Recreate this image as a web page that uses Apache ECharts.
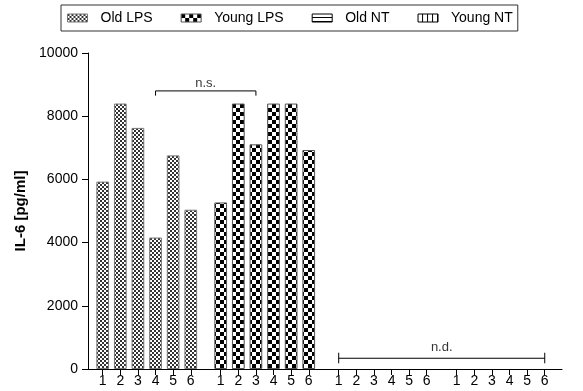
<!DOCTYPE html>
<html>
<head>
<meta charset="utf-8">
<script src="https://cdn.jsdelivr.net/npm/echarts@6/dist/echarts.min.js"></script>
<style>
html,body{margin:0;padding:0;background:#fff;}
#chart{width:583px;height:391px;}
</style>
</head>
<body>
<div id="chart"></div>
<script>
// ---- data ----
const groups = ['Old LPS', 'Young LPS', 'Old NT', 'Young NT'];
const tickLabels = ['1', '2', '3', '4', '5', '6'];
const oldLPS = [5930, 8400, 7630, 4160, 6760, 5040];
const youngLPS = [5270, 8400, 7110, 8400, 8400, 6930];
const oldNT = [0, 0, 0, 0, 0, 0];
const youngNT = [0, 0, 0, 0, 0, 0];
const yTicks = [0, 2000, 4000, 6000, 8000, 10000];
const nsText = 'n.s.';
const ndText = 'n.d.';
const nsLevel = [8650, 8800];   // bracket tick bottom, bracket line
const ndLevel = [180, 340, 515]; // tick bottom, line, tick top
const yTitle = 'IL-6 [pg/ml]';

// ---- layout helpers ----
const GROUP_STEP = 6.7;
function pos(g, i) { return +(g * GROUP_STEP + i + 1).toFixed(3); }
const seriesValues = [oldLPS, youngLPS, oldNT, youngNT];
const tickPos = [];
const labelMap = {};
groups.forEach((g, gi) => tickLabels.forEach((t, i) => {
  const p = pos(gi, i); tickPos.push(p); labelMap[p.toFixed(3)] = t;
}));

function makePattern(kind) {
  const c = document.createElement('canvas');
  const ctx = c.getContext('2d');
  if (kind === 'fine') {
    c.width = 4; c.height = 4;
    ctx.fillStyle = '#fff'; ctx.fillRect(0, 0, 4, 4);
    ctx.fillStyle = '#333';
    ctx.fillRect(0, 0, 2, 2); ctx.fillRect(2, 2, 2, 2);
  } else if (kind === 'coarse') {
    c.width = 8; c.height = 8;
    ctx.fillStyle = '#fff'; ctx.fillRect(0, 0, 8, 8);
    ctx.fillStyle = '#000';
    ctx.fillRect(0, 0, 4, 4); ctx.fillRect(4, 4, 4, 4);
  } else if (kind === 'hline') {
    c.width = 4; c.height = 4;
    ctx.fillStyle = '#fff'; ctx.fillRect(0, 0, 4, 4);
    ctx.fillStyle = '#000'; ctx.fillRect(0, 3, 4, 1);
  } else {
    c.width = 5; c.height = 5;
    ctx.fillStyle = '#fff'; ctx.fillRect(0, 0, 5, 5);
    ctx.fillStyle = '#000'; ctx.fillRect(4, 0, 1, 5);
  }
  return { image: c, repeat: 'repeat' };
}
const patterns = [makePattern('fine'), makePattern('coarse'), makePattern('hline'), makePattern('vline')];
const borders = ['#777', '#555', '#000', '#000'];

const FONT = 'Liberation Sans, Arial, sans-serif';

const series = [];
groups.forEach((name, gi) => {
  const zero = seriesValues[gi].every(v => v === 0);
  series.push({
    name: name,
    type: 'bar',
    barWidth: 12.7,
    barGap: '-100%',
    itemStyle: { color: patterns[gi], borderColor: borders[gi], borderWidth: zero ? 0 : 1 },
    data: seriesValues[gi].map((v, i) => [pos(gi, i), v]),
    silent: true
  });
});

function seg(points) {
  return {
    type: 'line', data: points, symbol: 'none', silent: true, z: 5,
    lineStyle: { color: '#000', width: 1 }
  };
}
// n.s. bracket
const nsL = pos(0, 3), nsR = pos(1, 2);
series.push(seg([[nsL, nsLevel[0]], [nsL, nsLevel[1]], [nsR, nsLevel[1]], [nsR, nsLevel[0]]]));
// n.d. bracket
const ndL = pos(2, 0), ndR = pos(3, 5);
series.push(seg([[ndL, ndLevel[1]], [ndR, ndLevel[1]]]));
series.push(seg([[ndL, ndLevel[0]], [ndL, ndLevel[2]]]));
series.push(seg([[ndR, ndLevel[0]], [ndR, ndLevel[2]]]));

function textAt(x, y, txt, dist) {
  return {
    type: 'scatter', symbolSize: 0, silent: true, z: 6,
    data: [[x, y]],
    label: { show: true, position: 'top', distance: dist, formatter: txt, color: '#000', fontSize: 13, fontFamily: FONT }
  };
}
series.push(textAt((nsL + nsR) / 2, nsLevel[1], nsText, 1));
series.push(textAt((ndL + ndR) / 2, ndLevel[2], ndText, -1));

const chart = echarts.init(document.getElementById('chart'), null, { renderer: 'canvas' });
chart.setOption({
  animation: false,
  backgroundColor: '#fff',
  textStyle: { fontFamily: FONT },
  legend: {
    data: groups.map((g, gi) => ({ name: g, itemStyle: { borderColor: borders[gi], borderWidth: 1 } })),
    left: 61, top: 5,
    borderColor: '#333', borderWidth: 1,
    padding: [6, 5, 6, 6],
    itemGap: 28, itemWidth: 20, itemHeight: 8,
    icon: 'rect',
    selectedMode: false,
    textStyle: { fontSize: 14, color: '#000', fontFamily: FONT, padding: [0, 0, 0, 8] }
  },
  grid: { left: 88, right: 21, top: 53, bottom: 22, containLabel: false },
  xAxis: {
    type: 'value', min: 0.165, max: 27.08,
    splitLine: { show: false },
    axisLine: { show: true, lineStyle: { color: '#000', width: 1 } },
    axisTick: { show: true, customValues: tickPos, length: 6, lineStyle: { color: '#000' } },
    axisLabel: {
      customValues: tickPos, margin: 5, fontSize: 14, color: '#000', fontFamily: FONT,
      formatter: v => labelMap[(+v).toFixed(3)] || ''
    }
  },
  yAxis: {
    type: 'value', min: yTicks[0], max: yTicks[yTicks.length - 1], interval: yTicks[1] - yTicks[0],
    name: yTitle, nameLocation: 'middle', nameGap: 50,
    nameTextStyle: { fontSize: 15, fontWeight: 'bold', color: '#000', fontFamily: FONT },
    splitLine: { show: false },
    axisLine: { show: true, lineStyle: { color: '#000', width: 1 } },
    axisTick: { show: true, length: 6, lineStyle: { color: '#000' } },
    axisLabel: { margin: 10, fontSize: 14, color: '#000', fontFamily: FONT, formatter: v => String(v) }
  },
  series: series
});
</script>
</body>
</html>
